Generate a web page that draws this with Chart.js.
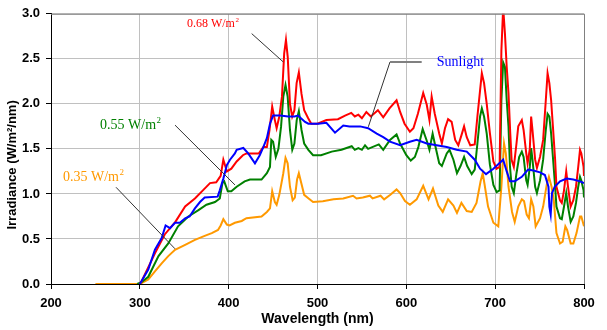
<!DOCTYPE html>
<html>
<head>
<meta charset="utf-8">
<script src="https://cdn.jsdelivr.net/npm/chart.js@4/dist/chart.umd.min.js"></script>
<style>
  html, body { margin: 0; padding: 0; background: #ffffff; }
  #wrap { width: 607px; height: 330px; }
</style>
</head>
<body>
<div id="wrap"><canvas id="c" width="607" height="330"></canvas></div>
<script>
// ---------- DATA ----------
const X_TICKS = [200, 300, 400, 500, 600, 700, 800];
const Y_TICKS = [0.0, 0.5, 1.0, 1.5, 2.0, 2.5, 3.0];

// 0.68 W/m2 simulated spectrum (red)
const RED_NM = [300,302,317,328,340,351,362,371,379,386,391,394,398,403,409,416,420,434,439,443,446,449,452,454,457,460,462.5,464.5,466.5,469,471.5,474,476.5,479,482,485,489.5,493,500,510,523,531,538,542,546,550,555,560,568,574,581,589,593,598,604,608,613,619,623,626,628.5,632,637,640,643.5,647,651,655,658.5,662,665,668,672,677,680,683,685,687.5,690.5,694,698,701.5,705,707,709,711,713,715,717,718.5,721,724,726,730,732,735,736.5,739,740.5,742,745,747,750.5,754,757,759,761,763,765,767.5,769,773,775,777.5,780,782,785,788,791,793.5,795.5,797,799.5,800];
const RED_VAL = [0,0.03,0.34,0.55,0.69,0.86,0.95,1.04,1.12,1.13,1.20,1.38,1.25,1.28,1.36,1.43,1.45,1.45,1.52,1.52,1.71,1.97,1.82,1.73,1.86,2.08,2.56,2.71,2.52,2.00,1.86,1.93,2.23,2.35,2.11,1.93,1.84,1.78,1.78,1.82,1.83,1.87,1.90,1.86,1.88,1.84,1.91,1.86,1.93,1.85,1.95,2.04,1.91,1.78,1.69,1.73,1.89,2.12,1.99,1.82,2.08,1.89,1.67,1.56,1.73,1.83,1.80,1.60,1.54,1.65,1.75,1.63,1.54,1.55,1.86,2.15,2.34,2.23,2.00,1.68,1.36,1.28,1.30,2.59,3.07,2.78,2.41,2.12,1.67,1.38,1.30,1.56,1.75,1.82,1.71,1.45,1.34,1.50,1.86,1.71,1.38,1.29,1.41,1.60,2.04,2.34,2.23,2.04,1.75,1.38,1.08,0.93,0.90,1.04,1.25,1.08,0.86,0.93,1.08,1.30,1.49,1.45,1.30,1.20];

// 0.55 W/m2 simulated spectrum (green)
const GREEN_NM = [297,302,309.5,321,332,343,354.6,366,375,384.6,390,393,395,399,403,409,418,424,437,443,446.5,448,450,453,456,459,461.5,464,466.4,469,471.6,474,476.6,479,482,485,489.7,495,504,516,527,538.5,542,546,550,553.5,557,569,574,581.6,589,593,600,605,609.6,613.5,618.4,623,626,629.6,632,637,640,645.5,648.6,653,657,661,665,668.5,673.6,677,680,683,685,687.5,690.5,694,698,701.7,705,707,709,711,713,715,716.7,718.6,721,724,727,730,732,735,736.5,739,740.5,742,745,747,750.5,754,757,759,761,763,765,767.5,769,773,775,777.5,780,782,785,788,791,793.5,795.5,797,799.5,800];
const GREEN_VAL = [0,0.02,0.08,0.31,0.45,0.64,0.75,0.82,0.88,0.91,0.95,1.12,1.14,1.03,1.03,1.08,1.14,1.16,1.16,1.23,1.30,1.60,1.58,1.41,1.50,1.75,2.08,2.21,2.08,1.71,1.49,1.56,1.82,1.92,1.71,1.56,1.49,1.43,1.43,1.47,1.49,1.53,1.49,1.51,1.49,1.54,1.50,1.55,1.49,1.60,1.66,1.56,1.43,1.37,1.41,1.52,1.72,1.59,1.49,1.67,1.56,1.34,1.31,1.45,1.49,1.38,1.23,1.31,1.41,1.31,1.22,1.27,1.56,1.86,1.95,1.86,1.67,1.33,1.10,1.02,1.04,2.04,2.46,2.41,2.04,1.75,1.30,1.08,1.01,1.23,1.41,1.47,1.41,1.15,1.10,1.30,1.51,1.38,1.08,1.01,1.15,1.38,1.71,1.89,1.86,1.67,1.41,1.08,0.86,0.73,0.72,0.86,1.01,0.86,0.69,0.75,0.90,1.08,1.19,1.15,1.04,0.96];

// 0.35 W/m2 simulated spectrum (orange)
const ORANGE_NM = [250,300,302,309.5,317,324.6,332,339.6,351,362,373,381,388,391,394,398,401,407,414.7,420,437,443,446.5,449,452,454,457,461.5,464,466.4,469,472,474.5,477,479,482,485,490,495,506,518,529,540,544,551,559,562,571,575,582,589,593,598.5,604,611.6,619,625,630,636,641,647,653,657,662,668,673.6,679,683.6,686,688,692,698,703.5,707,710,712,715,719,722,726,730,732.5,735.5,738,740.5,743,745.6,750.5,754,758,760.5,763.5,766,769,773,776,779,781,785,788,791.6,795.5,797,800];
const ORANGE_VAL = [0,0,0.01,0.05,0.14,0.23,0.31,0.38,0.435,0.49,0.535,0.565,0.60,0.65,0.72,0.66,0.65,0.68,0.70,0.73,0.75,0.80,0.84,1.03,0.91,0.88,0.99,1.23,1.40,1.34,1.08,0.93,0.96,1.16,1.23,1.11,0.99,0.95,0.91,0.92,0.94,0.95,0.98,0.95,0.96,0.98,0.95,0.98,0.94,0.99,1.05,1.01,0.92,0.88,0.94,1.09,0.94,1.06,0.87,0.80,0.94,0.87,0.79,0.90,0.81,0.80,0.90,1.14,1.23,1.11,0.86,0.68,0.64,1.08,1.56,1.45,1.08,0.80,0.69,0.86,0.94,0.92,0.77,0.73,0.94,0.86,0.64,0.73,0.86,1.10,1.19,1.08,0.93,0.565,0.45,0.47,0.64,0.60,0.45,0.45,0.565,0.75,0.75,0.64];

// Sunlight spectrum (blue)
const SUN_NM = [300,309.5,317,324.6,329,334,339.6,345,351,356,362,367.7,373,387.6,390,394,398,401.5,407,409,416.5,422,429.6,435,439,443,446.5,450,458,467,474,478,486,489.7,501,510,519.7,529,536,548,557,566.7,574,581.6,593,604,611.6,623,634,645.5,656.7,668,677,683,689.7,698,704.7,709,713,716.7,722,730,737,743,750.5,756,760,761,762.5,764,767,773,780.5,788,795.5,800];
const SUN_VAL = [0,0.16,0.38,0.51,0.65,0.62,0.68,0.68,0.73,0.75,0.84,0.91,0.96,0.97,1.04,1.17,1.32,1.38,1.45,1.49,1.51,1.45,1.34,1.43,1.52,1.62,1.78,1.87,1.87,1.86,1.86,1.87,1.80,1.78,1.78,1.79,1.68,1.76,1.75,1.75,1.73,1.67,1.63,1.58,1.54,1.58,1.60,1.56,1.54,1.52,1.49,1.47,1.38,1.28,1.22,1.28,1.34,1.38,1.25,1.14,1.14,1.19,1.27,1.26,1.24,1.21,1.08,0.86,0.77,1.01,1.08,1.14,1.17,1.16,1.14,1.12];

const SERIES_NAMES = ['Sunlight', '0.68 W/m2', '0.55 W/m2', '0.35 W/m2'];

// ---------- CHART ----------
function pts(xs, ys) { return xs.map((x, i) => ({ x: x, y: ys[i] })); }

const SANS = "'Liberation Sans', Arial, sans-serif";
const SERIF = "'Liberation Serif', 'Times New Roman', serif";

// annotation placement (in data units)
const ANNOTS = [
  { text: '0.68 W/m', sup: '2', color: '#ff0000', size: 12, x: 353, y: 2.883,
    lines: [[[425.9, 2.780], [461.5, 2.465]]], lw: 1, lc: '#333333' },
  { text: 'Sunlight', sup: '', color: '#0000ff', size: 14, x: 634.2, y: 2.465,
    lines: [[[581.6, 2.465], [557.2, 1.745]]], lw: 1, lc: '#333333',
    extra: [[[581.6, 2.465], [617.3, 2.465]]] },
  { text: '0.55 W/m', sup: '2', color: '#008000', size: 14, x: 255.2, y: 1.764,
    lines: [[[339.6, 1.764], [407.1, 1.100]]], lw: 1, lc: '#333333' },
  { text: '0.35 W/m', sup: '2', color: '#ff9900', size: 14, x: 213.5, y: 1.188,
    lines: [[[273.2, 1.074], [339.6, 0.391]]], lw: 1, lc: '#333333' }
];

const decor = {
  id: 'decor',
  afterDraw(chart) {
    const ctx = chart.ctx, a = chart.chartArea;
    const xs = chart.scales.x, ys = chart.scales.y;
    ctx.save();
    // frame (top & right) in grey
    ctx.strokeStyle = '#808080';
    ctx.lineWidth = 1;
    ctx.beginPath();
    ctx.moveTo(a.left, a.top + 0.5);
    ctx.lineTo(a.right + 0.5, a.top + 0.5);
    ctx.lineTo(a.right + 0.5, a.bottom);
    ctx.stroke();

    // annotations
    ANNOTS.forEach(an => {
      ctx.strokeStyle = an.lc;
      ctx.lineWidth = an.lw;
      an.lines.forEach(seg => {
        ctx.beginPath();
        ctx.moveTo(xs.getPixelForValue(seg[0][0]), ys.getPixelForValue(seg[0][1]));
        ctx.lineTo(xs.getPixelForValue(seg[1][0]), ys.getPixelForValue(seg[1][1]));
        ctx.stroke();
      });
      if (an.extra) {
        ctx.strokeStyle = '#808080';
        ctx.lineWidth = 2;
        an.extra.forEach(seg => {
          ctx.beginPath();
          ctx.moveTo(xs.getPixelForValue(seg[0][0]), ys.getPixelForValue(seg[0][1]));
          ctx.lineTo(xs.getPixelForValue(seg[1][0]), ys.getPixelForValue(seg[1][1]));
          ctx.stroke();
        });
      }
      const px = xs.getPixelForValue(an.x), py = ys.getPixelForValue(an.y);
      ctx.fillStyle = an.color;
      ctx.textAlign = 'left';
      ctx.textBaseline = 'middle';
      ctx.font = an.size + 'px ' + SERIF;
      ctx.fillText(an.text, px, py);
      if (an.sup) {
        const w = ctx.measureText(an.text).width;
        ctx.font = Math.round(an.size * 0.62) + 'px ' + SERIF;
        ctx.fillText(an.sup, px + w + 0.5, py - an.size * 0.33);
      }
    });

    // y-axis title
    ctx.fillStyle = '#000000';
    ctx.font = 'bold 13px ' + SANS;
    ctx.textAlign = 'center';
    ctx.textBaseline = 'middle';
    ctx.translate(12, (a.top + a.bottom) / 2 + 16);
    ctx.rotate(-Math.PI / 2);
    ctx.fillText('Irradiance (W/m²/nm)', 0, 0);
    ctx.restore();
  }
};

const ds = (label, xs, ys, color, w) => ({
  label: label,
  data: pts(xs, ys),
  borderColor: color,
  backgroundColor: color,
  borderWidth: w,
  pointRadius: 0,
  tension: 0,
  fill: false
});

new Chart(document.getElementById('c'), {
  type: 'line',
  data: {
    datasets: [
      ds(SERIES_NAMES[0], SUN_NM, SUN_VAL, '#0000ff', 2),
      ds(SERIES_NAMES[1], RED_NM, RED_VAL, '#ff0000', 2),
      ds(SERIES_NAMES[2], GREEN_NM, GREEN_VAL, '#008000', 2),
      ds(SERIES_NAMES[3], ORANGE_NM, ORANGE_VAL, '#ff9900', 2)
    ]
  },
  options: {
    responsive: false,
    devicePixelRatio: 1,
    animation: false,
    layout: { padding: { left: 0, top: 13, right: 23, bottom: 0 } },
    plugins: { legend: { display: false }, tooltip: { enabled: false } },
    scales: {
      x: {
        type: 'linear',
        min: X_TICKS[0], max: X_TICKS[X_TICKS.length - 1],
        afterBuildTicks: s => { s.ticks = X_TICKS.map(v => ({ value: v })); },
        ticks: { color: '#000', font: { family: SANS, size: 13, weight: 'bold' }, padding: 7, maxRotation: 0,
                 callback: v => String(v) },
        grid: { color: '#c0c0c0', tickColor: '#000', tickLength: 5, lineWidth: 1 },
        border: { color: '#000', width: 1 },
        title: { display: true, text: 'Wavelength (nm)', color: '#000',
                 font: { family: SANS, size: 14, weight: 'bold' }, padding: { top: 0, bottom: 2 } },
        afterFit: s => { s.height = 46; }
      },
      y: {
        type: 'linear',
        min: Y_TICKS[0], max: Y_TICKS[Y_TICKS.length - 1],
        afterBuildTicks: s => { s.ticks = Y_TICKS.map(v => ({ value: v })); },
        ticks: { color: '#000', font: { family: SANS, size: 13, weight: 'bold' }, padding: 6,
                 callback: v => Number(v).toFixed(1) },
        grid: { color: '#c0c0c0', tickColor: '#000', tickLength: 5, lineWidth: 1 },
        border: { color: '#000', width: 1 },
        afterFit: s => { s.width = 51; }
      }
    }
  },
  plugins: [decor]
});
</script>
</body>
</html>
